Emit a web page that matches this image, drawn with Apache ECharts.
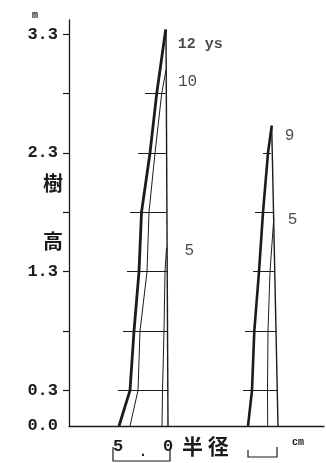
<!DOCTYPE html>
<html>
<head>
<meta charset="utf-8">
<script src="https://cdn.jsdelivr.net/npm/echarts@6/dist/echarts.min.js"></script>
<style>
html,body{margin:0;padding:0;background:#fff;}
#c{width:326px;height:463px;}
</style>
</head>
<body>
<div id="c"></div>
<script>
// ---- data (radius in cm measured from pith at ground, height in m) ----
// Left tree (12 years)
const heightsL12 = [0, 0.3, 0.8, 1.3, 1.8, 2.3, 2.8, 3.34];
const radiusL12  = [4.9, 3.8, 3.4, 2.9, 2.65, 1.8, 1.13, 0.23];
const heightsL10 = [0, 0.3, 0.8, 1.3, 1.8, 2.3, 2.8, 3.0];
const radiusL10  = [3.8, 3.0, 2.8, 2.1, 1.9, 1.3, 0.63, 0.2];
const heightsL5  = [0, 0.3, 0.8, 1.3, 1.5];
const radiusL5   = [0.6, 0.55, 0.4, 0.3, 0.15];
const heightsLPith = [0, 3.34];
const radiusLPith  = [0, 0.2];
const sectionHeightsL = [0.3, 0.8, 1.3, 1.8, 2.3, 2.8];
const sectionOuterL   = [5.0, 4.5, 4.1, 3.8, 3.0, 2.3];
const sectionInnerL   = [-0.05, 0, 0.1, 0.15, 0.2, 0.25];
// Right tree (9 years)
const heightsR9 = [0, 0.3, 0.8, 1.3, 1.8, 2.3, 2.53];
const radiusR9  = [3.0, 2.6, 2.37, 1.9, 1.5, 1.0, 0.63];
const heightsR5 = [0, 0.3, 0.8, 1.3, 1.75];
const radiusR5  = [1.03, 1.05, 1.0, 0.8, 0.42];
const heightsRPith = [0, 2.53];
const radiusRPith  = [0, 0.63];
const sectionHeightsR = [0.3, 0.8, 1.3, 1.8, 2.3];
const sectionOuterR   = [3.5, 3.3, 2.5, 2.3, 1.5];
const sectionInnerR   = [0.03, 0.13, 0.4, 0.5, 0.7];
// Age labels
const ageLabelsL = ['12 ys', '10', '5'];
const ageLabelsR = ['9', '5'];
// Axis labels
const yLabelValues = [0, 0.3, 1.3, 2.3, 3.3];
const yTickValues  = [0.3, 0.8, 1.3, 1.8, 2.3, 2.8, 3.3];
const xLabelValues = [5, 0];

const INK = '#1b1b1b';
const MONO = '"Liberation Mono", "DejaVu Sans Mono", monospace';
const CJK = '"Noto Sans CJK JP", "Noto Sans CJK SC", sans-serif';

function pts(r, h) { return r.map((v, i) => [v, h[i]]); }
function lineSeries(r, h, xi, w) {
  return {
    type: 'line', xAxisIndex: xi, yAxisIndex: 0, data: pts(r, h),
    symbol: 'none', silent: true, clip: false,
    lineStyle: { color: INK, width: w }
  };
}
function sections(hs, outer, inner, xi) {
  return {
    type: 'lines', coordinateSystem: 'cartesian2d', xAxisIndex: xi, yAxisIndex: 0,
    silent: true,
    lineStyle: { color: INK, width: 1, opacity: 1 },
    data: hs.map((h, i) => ({ coords: [[outer[i], h], [inner[i], h]] }))
  };
}
const last = (a) => a[a.length - 1];

const chart = echarts.init(document.getElementById('c'), null, { renderer: 'canvas' });

const labelOffsetsL = [[7, 15], [7, 12], [13, 3]];
const labelOffsetsR = [[8, 10], [9, 2]];
const anchorsL = [[last(radiusL12), last(heightsL12)], [last(radiusL10), last(heightsL10)], [last(radiusL5), last(heightsL5)]];
const anchorsR = [[last(radiusR9), last(heightsR9)], [last(radiusR5), last(heightsR5)]];

function labelSeries(anchors, names, offsets, xi, sizes) {
  return {
    type: 'scatter', xAxisIndex: xi, yAxisIndex: 0, symbolSize: 0, silent: true,
    data: anchors.map((a, i) => ({
      value: a,
      label: {
        show: true, position: 'right', distance: 5, offset: offsets[i],
        formatter: names[i],
        fontFamily: MONO, fontSize: sizes[i], fontWeight: names[i].indexOf('ys') > 0 ? 'bold' : 'normal',
        color: INK
      }
    }))
  };
}

const option = {
  animation: false,
  backgroundColor: '#ffffff',
  grid: { left: 69, right: 2, top: 20, bottom: 37, containLabel: false },
  xAxis: [
    {
      type: 'value', inverse: true, min: -15.6, max: 9.9,
      axisLine: { show: true, onZero: false, lineStyle: { color: INK, width: 1.3 } },
      axisTick: { show: false }, splitLine: { show: false },
      axisLabel: {
        show: true, customValues: xLabelValues, margin: 12,
        formatter: (v) => String(v), fontFamily: MONO, fontSize: 17, fontWeight: 'bold', color: INK
      }
    },
    {
      type: 'value', inverse: true, min: -4.6, max: 20.9, show: false,
      axisLine: { show: false, onZero: false }, axisTick: { show: false }, splitLine: { show: false }, axisLabel: { show: false }
    }
  ],
  yAxis: {
    type: 'value', min: 0, max: 3.42,
    axisLine: { show: true, onZero: false, lineStyle: { color: INK, width: 1.3 } },
    axisTick: { show: true, customValues: yTickValues, length: 6, inside: false, lineStyle: { color: INK, width: 1.2 } },
    axisLabel: {
      show: true, customValues: yLabelValues, margin: 11,
      formatter: (v) => v.toFixed(1), fontFamily: MONO, fontSize: 17, fontWeight: 'bold', color: INK
    },
    splitLine: { show: false }
  },
  series: [
    lineSeries(radiusLPith, heightsLPith, 0, 1.4),
    lineSeries(radiusL5, heightsL5, 0, 1.0),
    lineSeries(radiusL10, heightsL10, 0, 1.0),
    lineSeries(radiusL12, heightsL12, 0, 2.8),
    sections(sectionHeightsL, sectionOuterL, sectionInnerL, 0),
    lineSeries(radiusRPith, heightsRPith, 1, 1.4),
    lineSeries(radiusR5, heightsR5, 1, 1.0),
    lineSeries(radiusR9, heightsR9, 1, 2.6),
    sections(sectionHeightsR, sectionOuterR, sectionInnerR, 1),
    labelSeries(anchorsL, ageLabelsL, labelOffsetsL, 0, [15, 16, 16]),
    labelSeries(anchorsR, ageLabelsR, labelOffsetsR, 1, [16, 16])
  ]
};
chart.setOption(option);

// Decorations placed through the axes' scales
const yBase = chart.convertToPixel({ yAxisIndex: 0 }, 0);
const yTop = chart.convertToPixel({ yAxisIndex: 0 }, 3.42);
const x5 = chart.convertToPixel({ xAxisIndex: 0 }, 5);
const x0 = chart.convertToPixel({ xAxisIndex: 0 }, 0);
const xr3 = chart.convertToPixel({ xAxisIndex: 1 }, 3);
const xr0 = chart.convertToPixel({ xAxisIndex: 1 }, 0.1);
const yAxisX = 69;

chart.setOption({
  graphic: [
    { type: 'text', left: yAxisX - 37, top: yTop - 10, style: { text: 'm', font: 'bold 10px ' + MONO, fill: INK } },
    { type: 'text', x: yAxisX - 16, y: 183, style: { text: '樹', font: 'bold 20px ' + CJK, fill: INK, align: 'center', verticalAlign: 'middle' } },
    { type: 'text', x: yAxisX - 16, y: 241, style: { text: '高', font: 'bold 20px ' + CJK, fill: INK, align: 'center', verticalAlign: 'middle' } },
    { type: 'text', x: (x5 + x0) / 2, y: yBase + 26, style: { text: '.', font: 'bold 14px ' + MONO, fill: INK, align: 'center', verticalAlign: 'middle' } },
    { type: 'polyline', shape: { points: [[x5 - 5, yBase + 21], [x5 - 5, yBase + 35], [x0 + 2, yBase + 35], [x0 + 2, yBase + 24]] }, style: { stroke: INK, lineWidth: 1.2, fill: null } },
    { type: 'text', x: x0 + 14, y: yBase + 20, style: { text: '半 径', font: 'bold 21px ' + CJK, fill: INK, verticalAlign: 'middle' } },
    { type: 'polyline', shape: { points: [[xr3, yBase + 24], [xr3, yBase + 31], [xr0, yBase + 31], [xr0, yBase + 21]] }, style: { stroke: INK, lineWidth: 1.2, fill: null } },
    { type: 'text', x: xr0 + 15, y: yBase + 16, style: { text: 'cm', font: 'bold 10px ' + MONO, fill: INK, verticalAlign: 'middle' } }
  ]
});
</script>
</body>
</html>
